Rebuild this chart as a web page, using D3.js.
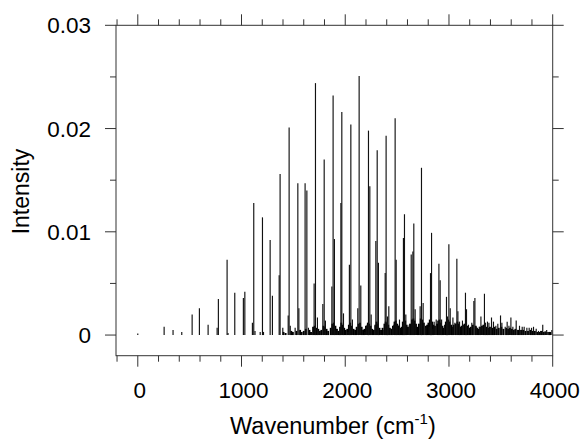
<!DOCTYPE html>
<html>
<head>
<meta charset="utf-8">
<script src="https://cdn.jsdelivr.net/npm/d3@7"></script>
<style>
  body { margin: 0; background: #fff; }
  svg { display: block; }
  text { font-family: Arial, "Liberation Sans", sans-serif; fill: #000; }
</style>
</head>
<body>
<div id="app"></div>
<script>
// main stick positions (cm-1) and intensities
const stickWn = [0, 254, 340, 424, 524, 594, 678, 765, 777, 861, 870, 935, 1018, 1032,
  1105, 1118, 1130, 1180, 1202, 1212, 1276, 1298, 1363, 1372, 1398, 1450, 1459, 1470,
  1517, 1543, 1553, 1613, 1630, 1645, 1680, 1700, 1713, 1732, 1745, 1784, 1797, 1809,
  1871, 1883, 1896, 1910, 1945, 1958, 1967, 1983, 2027, 2040, 2054, 2069, 2121, 2134,
  2150, 2190, 2210, 2224, 2237, 2250, 2288, 2295, 2308, 2320, 2372, 2385, 2394, 2407,
  2420, 2455, 2468, 2481, 2491, 2507, 2523, 2561, 2571, 2584, 2617, 2636, 2652, 2661,
  2674, 2722, 2735, 2751, 2771, 2809, 2822, 2832, 2845, 2857, 2877, 2903, 2915, 2929,
  2955, 2976, 2986, 2999, 3012, 3038, 3057, 3076, 3086, 3102, 3130, 3140, 3159, 3169,
  3188, 3220, 3240, 3250, 3263, 3292, 3308, 3324, 3342, 3352, 3371, 3385, 3410, 3429,
  3452, 3471, 3497, 3510, 3542, 3561, 3578, 3597, 3616, 3648, 3661, 3680, 3706, 3725,
  3751, 3773, 3796, 3815, 3841, 3863, 3883, 3904, 3927, 3942, 3952, 3992]
const stickInt = [0.00015, 0.0008, 0.0005, 0.0003, 0.002, 0.0026, 0.001, 0.0007, 0.0035, 0.0073, 0.0002, 0.0041, 0.0036, 0.0042,
  0.0012, 0.0128, 0.0004, 0.0003, 0.0114, 0.0003, 0.0092, 0.0038, 0.0058, 0.0156, 0.0007, 0.0019, 0.0201, 0.0009,
  0.0007, 0.0147, 0.0026, 0.0147, 0.014, 0.0007, 0.0002, 0.005, 0.0244, 0.0017, 0.0004, 0.003, 0.017, 0.0014,
  0.0047, 0.0232, 0.0093, 0.0005, 0.0005, 0.0128, 0.0216, 0.0021, 0.0003, 0.0068, 0.0204, 0.0015, 0.0026, 0.0251,
  0.0048, 0.0003, 0.001, 0.0198, 0.0144, 0.002, 0.0009, 0.0091, 0.0179, 0.007, 0.0005, 0.006, 0.0193, 0.0018,
  0.0028, 0.0007, 0.001, 0.021, 0.0073, 0.001, 0.0015, 0.0094, 0.0117, 0.002, 0.001, 0.0078, 0.0081, 0.0108,
  0.0025, 0.0028, 0.0162, 0.0031, 0.0007, 0.0008, 0.006, 0.0099, 0.0006, 0.0013, 0.0015, 0.0069, 0.0053, 0.0015,
  0.0009, 0.0037, 0.0018, 0.0088, 0.0026, 0.0017, 0.0012, 0.0074, 0.0023, 0.0013, 0.0014, 0.001, 0.0041, 0.0025,
  0.001, 0.0012, 0.0033, 0.0036, 0.0008, 0.0008, 0.0018, 0.0007, 0.004, 0.0012, 0.0013, 0.0012, 0.0017, 0.0013,
  0.0009, 0.0011, 0.0019, 0.0012, 0.0008, 0.0013, 0.0009, 0.0017, 0.0008, 0.0014, 0.0005, 0.0009, 0.0008, 0.0008,
  0.0007, 0.0007, 0.0007, 0.0008, 0.0006, 0.0004, 0.0004, 0.001, 0.0004, 0.0005, 0.0003, 0.0005]

// dense weak background lines
const bgWn = [1405, 1425, 1480, 1495, 1530, 1565, 1580, 1600, 1620, 1655, 1670, 1690, 1705, 1720,
  1740, 1755, 1770, 1790, 1805, 1820, 1835, 1860, 1875, 1890, 1905, 1920, 1935, 1950, 1962, 1975,
  1990, 2005, 2020, 2035, 2047, 2062, 2080, 2095, 2110, 2128, 2142, 2158, 2172, 2185, 2200, 2218,
  2230, 2245, 2260, 2275, 2290, 2302, 2315, 2330, 2345, 2360, 2378, 2390, 2402, 2415, 2430, 2445,
  2460, 2475, 2487, 2500, 2515, 2530, 2545, 2555, 2566, 2578, 2592, 2605, 2625, 2643, 2657, 2668,
  2682, 2695, 2710, 2728, 2742, 2758, 2778, 2790, 2802, 2815, 2826, 2838, 2850, 2865, 2885, 2896,
  2909, 2922, 2935, 2948, 2962, 2970, 2982, 2993, 3005, 3020, 3030, 3045, 3065, 3082, 3095, 3110,
  3122, 3150, 3165, 3178, 3198, 3210, 3230, 3258, 3270, 3282, 3300, 3318, 3332, 3360, 3378, 3395,
  3420, 3440, 3460, 3480, 3505, 3525, 3552, 3570, 3588, 3607, 3625, 3640, 3670, 3695, 3715, 3738,
  3762, 3785, 3805, 3828, 3852, 3872, 3895, 3915, 3935, 3965, 3975]
const bgInt = [0.0003, 0.0002, 0.0004, 0.0003, 0.0004, 0.0005, 0.0003, 0.0004, 0.0006, 0.0005, 0.0003, 0.0008, 0.0009, 0.0007,
  0.0006, 0.0004, 0.0005, 0.0009, 0.0008, 0.0006, 0.0004, 0.0007, 0.0011, 0.0012, 0.0009, 0.0006, 0.0004, 0.0008, 0.0012, 0.001,
  0.0007, 0.0005, 0.0006, 0.001, 0.0012, 0.0009, 0.0006, 0.0005, 0.0008, 0.0011, 0.0012, 0.0008, 0.0005, 0.0006, 0.0009, 0.0012,
  0.0011, 0.0009, 0.0006, 0.0005, 0.001, 0.0013, 0.0011, 0.0007, 0.0005, 0.0007, 0.0011, 0.0013, 0.0012, 0.001, 0.0007, 0.0006,
  0.0009, 0.0013, 0.0014, 0.0011, 0.0009, 0.0007, 0.0008, 0.0013, 0.0015, 0.0014, 0.001, 0.0008, 0.0011, 0.0015, 0.0016, 0.0014,
  0.0011, 0.0008, 0.0011, 0.0016, 0.0015, 0.0012, 0.0009, 0.001, 0.0012, 0.0015, 0.0016, 0.0013, 0.001, 0.0009, 0.0011, 0.0014,
  0.0015, 0.0012, 0.0009, 0.0007, 0.001, 0.0013, 0.0014, 0.0015, 0.0013, 0.001, 0.0008, 0.001, 0.0011, 0.0013, 0.0011, 0.0008,
  0.0009, 0.0011, 0.0012, 0.0009, 0.0007, 0.0008, 0.001, 0.0009, 0.0007, 0.0006, 0.0008, 0.0009, 0.001, 0.0008, 0.0007, 0.0008,
  0.0007, 0.0008, 0.0006, 0.0007, 0.0008, 0.0006, 0.0007, 0.0006, 0.0007, 0.0006, 0.0005, 0.0006, 0.0005, 0.0005, 0.0005, 0.0004,
  0.0004, 0.0005, 0.0004, 0.0004, 0.0003, 0.0003, 0.0004, 0.0003, 0.0003, 0.0003, 0.0003]

const xMajor = [0, 1000, 2000, 3000, 4000]
const xMinor = [-200, 200, 400, 600, 800, 1200, 1400, 1600, 1800, 2200, 2400, 2600, 2800, 3200, 3400, 3600, 3800]
const yMajor = [0, 0.01, 0.02, 0.03]
const yMinor = [0.005, 0.015, 0.025]

const make_plot = (root_node) => {
   let width = 584
   let height = 439
   let left = 116, right = 552.7, top = 25.3, bottom = 355.7
   let axis_color = "#333"
   let major = 11, minor = 6

   let svg = d3.select(root_node)
      .append("svg")
      .attr("width", width)
      .attr("height", height)

   let x = d3.scaleLinear().domain([-210, 4000]).range([left, right])
   let y = d3.scaleLinear().domain([-0.002, 0.03]).range([bottom, top])

   let sticks = stickWn.map((w, i) => ({w: w, v: stickInt[i]}))
   let bg = bgWn.map((w, i) => ({w: w, v: bgInt[i]}))

   svg.append("g")
      .selectAll("line")
      .data(bg)
      .join("line")
      .attr("x1", d => x(d.w)).attr("x2", d => x(d.w))
      .attr("y1", y(0)).attr("y2", d => y(d.v))
      .attr("stroke", "#000")
      .attr("stroke-width", 1.9)

   svg.append("g")
      .selectAll("line")
      .data(sticks)
      .join("line")
      .attr("x1", d => x(d.w)).attr("x2", d => x(d.w))
      .attr("y1", y(0)).attr("y2", d => y(d.v))
      .attr("stroke", "#111")
      .attr("stroke-width", 1.15)

   // frame
   svg.append("rect")
      .attr("x", left).attr("y", top)
      .attr("width", right - left).attr("height", bottom - top)
      .attr("fill", "none")
      .attr("stroke", axis_color)
      .attr("stroke-width", 1)

   const tick_group = svg.append("g").attr("stroke", axis_color).attr("stroke-width", 1)

   // x ticks on bottom and top
   const xt = xMajor.map(v => ({v: v, len: major})).concat(xMinor.map(v => ({v: v, len: minor})))
   tick_group.selectAll(".xb").data(xt).join("line")
      .attr("x1", d => x(d.v)).attr("x2", d => x(d.v))
      .attr("y1", bottom).attr("y2", d => bottom + d.len)
   tick_group.selectAll(".xt").data(xt).join("line")
      .attr("x1", d => x(d.v)).attr("x2", d => x(d.v))
      .attr("y1", top).attr("y2", d => top - d.len)

   const yt = yMajor.map(v => ({v: v, len: major})).concat(yMinor.map(v => ({v: v, len: minor})))
   tick_group.selectAll(".yl").data(yt).join("line")
      .attr("y1", d => y(d.v)).attr("y2", d => y(d.v))
      .attr("x1", left).attr("x2", d => left - d.len)
   tick_group.selectAll(".yr").data(yt).join("line")
      .attr("y1", d => y(d.v)).attr("y2", d => y(d.v))
      .attr("x1", right).attr("x2", d => right + d.len)

   // tick labels
   svg.append("g").selectAll("text").data(xMajor).join("text")
      .attr("x", d => x(d) + 2).attr("y", 398)
      .attr("text-anchor", "middle")
      .attr("font-size", "22.5px")
      .text(d => d)

   svg.append("g").selectAll("text").data(yMajor).join("text")
      .attr("x", 91).attr("y", d => y(d) + 8)
      .attr("text-anchor", "end")
      .attr("font-size", "22.5px")
      .text(d => d === 0 ? "0" : d3.format(".2f")(d))

   // axis titles
   let xt_label = svg.append("text")
      .attr("x", 230).attr("y", 434)
      .attr("text-anchor", "start")
      .attr("font-size", "23.5px")
   xt_label.append("tspan").text("Wavenumber (cm")
   xt_label.append("tspan").attr("font-size", "15px").attr("dy", -10).text("-1")
   xt_label.append("tspan").attr("dy", 10).text(")")

   svg.append("text")
      .attr("transform", `translate(29,191.5) rotate(-90)`)
      .attr("text-anchor", "middle")
      .attr("font-size", "23px")
      .text("Intensity")
}

make_plot("#app")
</script>
</body>
</html>
